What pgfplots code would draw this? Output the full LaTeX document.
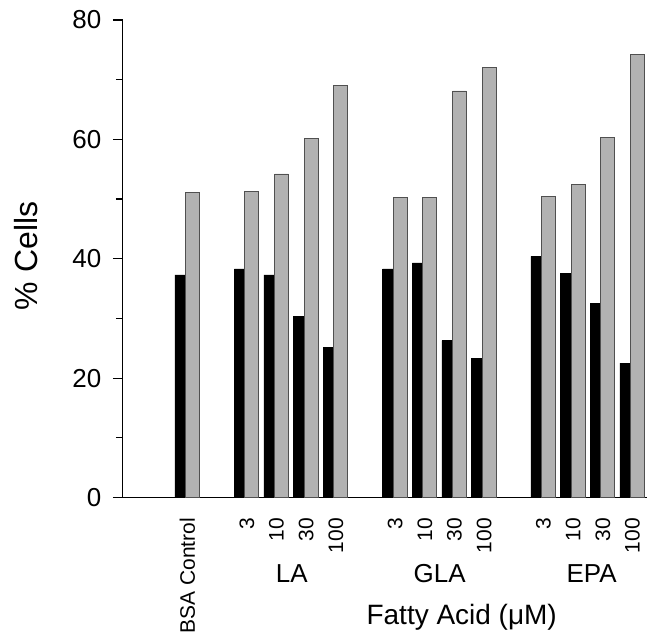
\documentclass[border=0pt]{standalone}
\usepackage{fontspec}
\setmainfont{Liberation Sans}
\usepackage{pgfplots}
\pgfplotsset{compat=1.18}
\definecolor{barGray}{RGB}{178,178,178}
\definecolor{barEdge}{RGB}{80,80,80}
\begin{document}
\begin{tikzpicture}
\begin{axis}[
  scale only axis,
  width=525bp, height=478bp,
  xmin=-2.11, xmax=15.57,
  ymin=0, ymax=80,
  axis x line*=bottom, axis y line*=left,
  axis line style={line width=1.2bp, -},
  ytick={0,20,40,60,80},
  minor ytick={10,30,50,70},
  tick align=outside,
  major tick length=10bp, minor tick length=7bp,
  every tick/.style={line width=1.2bp, black},
  xtick={0,2,3,4,5,7,8,9,10,12,13,14,15},
  xticklabels={BSA Control,3,10,30,100,3,10,30,100,3,10,30,100},
  x tick label style={xshift=2bp, yshift=-7bp, rotate=90, anchor=east, font=\fontsize{21bp}{25bp}\selectfont},
  xtick style={draw=none},
  y tick label style={xshift=-8bp, font=\fontsize{26bp}{30bp}\selectfont},
  /pgf/number format/assume math mode=true,
  clip=false,
]
\addplot[ybar, bar width=0.354, bar shift=-0.177, fill=black, draw=black, line width=0.4bp]
  coordinates {(0,37.3) (2,38.3) (3,37.3) (4,30.3) (5,25.2)
               (7,38.3) (8,39.3) (9,26.3) (10,23.3)
               (12,40.4) (13,37.5) (14,32.5) (15,22.5)};
\addplot[ybar, bar width=0.47, bar shift=0.236, fill=barGray, draw=barEdge, line width=0.8bp]
  coordinates {(0,51.1) (2,51.2) (3,54.2) (4,60.1) (5,69.0)
               (7,50.3) (8,50.3) (9,68.1) (10,72.1)
               (12,50.4) (13,52.4) (14,60.3) (15,74.2)};
\node[font=\fontsize{26bp}{30bp}\selectfont, yshift=-76bp] at (axis cs:3.58,0) {LA};
\node[font=\fontsize{26bp}{30bp}\selectfont, yshift=-76bp] at (axis cs:8.57,0) {GLA};
\node[font=\fontsize{26bp}{30bp}\selectfont, yshift=-76bp] at (axis cs:13.69,0) {EPA};
\node[font=\fontsize{28bp}{33bp}\selectfont, yshift=-120bp] at (axis cs:9.31,0) {Fatty Acid (μM)};
\node[font=\fontsize{32bp}{38bp}\selectfont, xshift=-97bp, rotate=90] at (rel axis cs:0,0.506) {\% Cells};
\path (rel axis cs:-0.2343,1.0418) rectangle (rel axis cs:1,-0.2908);
\end{axis}
\end{tikzpicture}
\end{document}
